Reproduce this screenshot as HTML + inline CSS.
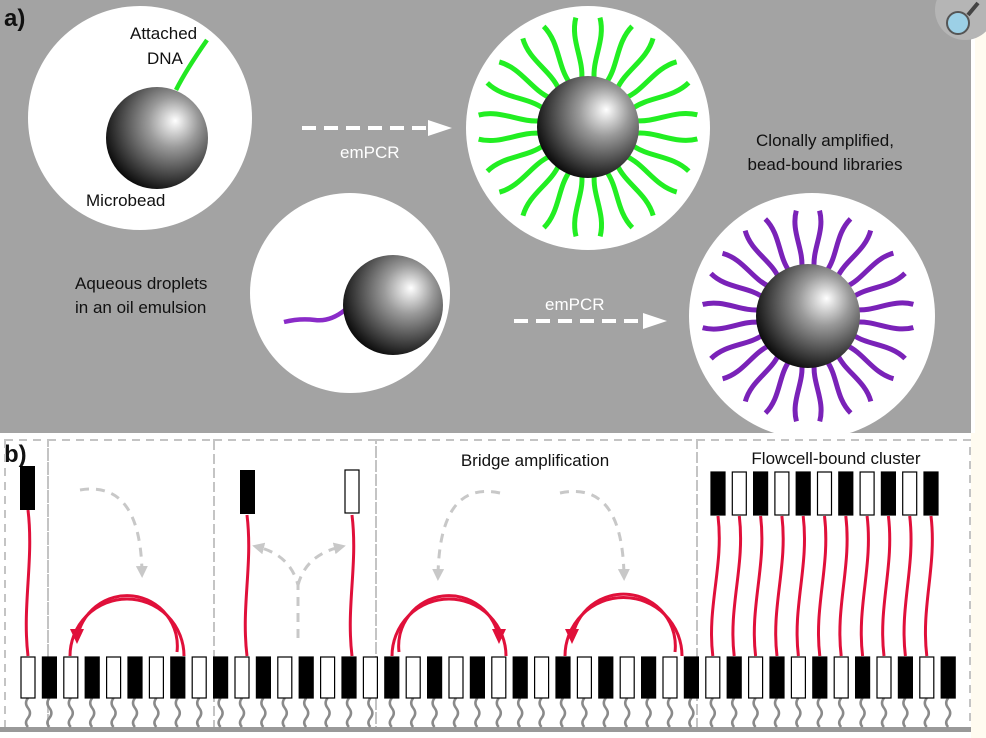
<!DOCTYPE html>
<html><head><meta charset="utf-8"><style>
html,body{margin:0;padding:0;background:#fffbf0;}
svg{display:block;font-family:"Liberation Sans",sans-serif;}
</style></head><body>
<svg id="s" width="986" height="738" viewBox="0 0 986 738" xmlns="http://www.w3.org/2000/svg">
<defs>
<radialGradient id="bead" cx="0.62" cy="0.38" r="0.7" fx="0.68" fy="0.33">
<stop offset="0" stop-color="#ffffff"/><stop offset="0.35" stop-color="#9a9a9a"/><stop offset="0.8" stop-color="#303030"/><stop offset="1" stop-color="#000"/>
</radialGradient>
<marker id="ga" viewBox="0 0 10 10" refX="5" refY="5" markerWidth="4" markerHeight="4" orient="auto"><path d="M0,0L10,5L0,10z" fill="#c8c8c8"/></marker>
</defs>
<rect x="972" y="0" width="14" height="738" fill="#fffbf0"/>
<rect x="0" y="0" width="971" height="433" fill="#a3a3a3"/>
<rect x="971" y="0" width="4" height="433" fill="#fff"/>
<rect x="0" y="433" width="971" height="305" fill="#fff"/>
<circle cx="965" cy="10" r="30" fill="#b5b5b5"/>
<line x1="968" y1="15" x2="978" y2="3" stroke="#444" stroke-width="4"/>
<circle cx="958" cy="23" r="11" fill="#9cd0e6" stroke="#555" stroke-width="2"/>
<circle cx="140" cy="118" r="112" fill="#fff"/>
<path d="M176,90 Q186,70 207,40" stroke="#22e822" stroke-width="4.5" fill="none"/>
<circle cx="157" cy="138" r="51" fill="url(#bead)"/>
<circle cx="588" cy="128" r="122" fill="#fff"/>
<g id="green"></g>
<circle cx="588" cy="127" r="51" fill="url(#bead)"/>
<circle cx="350" cy="293" r="100" fill="#fff"/>
<path d="M284,322 Q300,318 315,320 Q330,322 345,310" stroke="#8a2bc8" stroke-width="4.5" fill="none"/>
<circle cx="393" cy="305" r="50" fill="url(#bead)"/>
<circle cx="812" cy="316" r="123" fill="#fff"/>
<g id="purple"></g>
<circle cx="808" cy="316" r="52" fill="url(#bead)"/>
<g stroke="#fff" stroke-width="4" stroke-dasharray="14,8" fill="none">
<line x1="302" y1="128" x2="430" y2="128"/><line x1="514" y1="321" x2="645" y2="321"/></g>
<path d="M428,120L452,128L428,136z" fill="#fff"/><path d="M643,313L667,321L643,329z" fill="#fff"/>
<g font-size="17" fill="#111">
<text x="4" y="26" font-size="24" font-weight="bold">a)</text>
<text x="130" y="39">Attached</text><text x="147" y="64">DNA</text>
<text x="86" y="206">Microbead</text>
<text x="825" y="146" text-anchor="middle">Clonally amplified,</text>
<text x="825" y="170" text-anchor="middle">bead-bound libraries</text>
<text x="75" y="289">Aqueous droplets</text><text x="75" y="313">in an oil emulsion</text>
<text x="340" y="158" fill="#fff">emPCR</text><text x="545" y="310" fill="#fff">emPCR</text>
<text x="4" y="462" font-size="24" font-weight="bold">b)</text>
<text x="535" y="466" text-anchor="middle">Bridge amplification</text>
<text x="836" y="464" text-anchor="middle">Flowcell-bound cluster</text>
</g>
<g id="bot"></g>
</svg>
<script>
var NS="http://www.w3.org/2000/svg";
function el(p,t,a){var e=document.createElementNS(NS,t);for(var k in a)e.setAttribute(k,a[k]);document.getElementById(p).appendChild(e);return e;}
function rays(g,cx,cy,n,r1,r2,col,off){for(var i=0;i<n;i++){var a=(i/n)*Math.PI*2+off;var d=0.07*(i%2?1:-1);
var x1=cx+r1*Math.cos(a),y1=cy+r1*Math.sin(a),x2=cx+r2*Math.cos(a+d*0.3),y2=cy+r2*Math.sin(a+d*0.3);
var q1=r1+(r2-r1)*0.33,q2=r1+(r2-r1)*0.66;
el(g,"path",{d:"M"+x1+","+y1+" C"+(cx+q1*Math.cos(a+d))+","+(cy+q1*Math.sin(a+d))+" "+(cx+q2*Math.cos(a-d))+","+(cy+q2*Math.sin(a-d))+" "+x2+","+y2,stroke:col,"stroke-width":5,fill:"none"});}}
rays("green",588,127,24,48,110,"#22ee22",0.13);
rays("purple",808,316,24,48,106,"#7a22b8",0.13);
var dash={stroke:"#c4c4c4","stroke-width":2,"stroke-dasharray":"8,6",fill:"none"};
[[5,440,43,290],[48,440,166,290],[214,440,162,290],[376,440,321,290],[697,440,273,290]].forEach(function(r){var a=Object.assign({x:r[0],y:r[1],width:r[2],height:r[3]},dash);el("bot","rect",a);});
el("bot","rect",{x:0,y:727,width:971,height:5,fill:"#999"});
var P=21.4,X0=21;
for(var i=0;i<44;i++){var x=X0+P*i;var cx=x+7;
el("bot","path",{d:"M"+cx+",698 q-4,5 0,10 q4,5 0,10 q-4,5 0,9",stroke:"#8a8a8a","stroke-width":2.5,fill:"none"});
el("bot","rect",{x:x,y:657,width:14,height:41,fill:(i%2?"#000":"#fff"),stroke:"#000","stroke-width":1.2});}
var red="#e0103a";
function strand(xt,xb,y1,y2){el("bot","path",{d:"M"+xb+","+y1+" C"+(xb-6)+","+(y1-50)+" "+(xt+6)+","+(y2+50)+" "+xt+","+y2,stroke:red,"stroke-width":3,fill:"none"});}
strand(28,28,656,510);el("bot","rect",{x:20,y:466,width:15,height:44,fill:"#000"});
strand(247,247,656,515);el("bot","rect",{x:240,y:470,width:15,height:44,fill:"#000"});
strand(352,352,656,515);el("bot","rect",{x:345,y:470,width:14,height:43,fill:"#fff",stroke:"#000","stroke-width":1.2});
for(var k=0;k<11;k++){var x=711+21.3*k;var bi=Math.round((x-X0)/P);var xb=X0+P*bi+7;strand(x+7,xb,656,516);
el("bot","rect",{x:x,y:472,width:14,height:43,fill:(k%2?"#fff":"#000"),stroke:"#000","stroke-width":1.2});}
function arc(x1,x2){var r=Math.abs(x2-x1)/2;var s=x1<x2?1:-1;var sw=s>0?1:0;
el("bot","path",{d:"M"+x1+",656 A"+r+","+r+" 0 0 "+sw+" "+x2+",656",stroke:red,"stroke-width":3,fill:"none"});
var r2=r-7;
el("bot","path",{d:"M"+(x1+7*s)+",652 A"+r2+","+r2+" 0 0 "+sw+" "+(x2-7*s)+",640",stroke:red,"stroke-width":3,fill:"none"});
var ax=x2-7*s,ay=642;el("bot","path",{d:"M"+(ax-7)+","+(ay-13)+"L"+(ax+7)+","+(ay-13)+"L"+ax+","+(ay+2)+"z",fill:red});}
arc(184,70);arc(392,506);arc(682,565);
var g={stroke:"#c8c8c8","stroke-width":3,"stroke-dasharray":"9,7",fill:"none","marker-end":"url(#ga)"};
el("bot","path",Object.assign({d:"M80,490 Q140,480 142,572"},g));
el("bot","path",Object.assign({d:"M500,493 Q440,480 438,575"},g));
el("bot","path",Object.assign({d:"M560,493 Q622,480 624,575"},g));
el("bot","path",Object.assign({d:"M298,638 L298,585 Q290,555 258,547"},g));
el("bot","path",Object.assign({d:"M298,585 Q306,555 340,547"},g));
</script>
</body></html>
